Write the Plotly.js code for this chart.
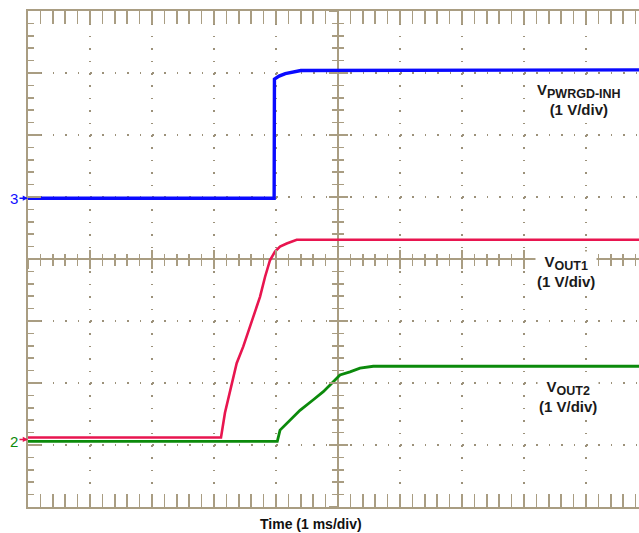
<!DOCTYPE html>
<html>
<head>
<meta charset="utf-8">
<script src="https://cdn.plot.ly/plotly-3.0.1.min.js"></script>
<style>html,body{margin:0;padding:0;background:#fff;}#chart{width:639px;height:533px;}</style>
</head>
<body>
<div id="chart"></div>
<script>
// Time axis in ms (1 ms/div, 0 = screen centre); vertical in divisions (1 V/div)
const timeBlue = [-5, -1.03, -1.025, -0.95, -0.85, -0.6, 4.86];
const vBlue    = [0.98, 0.98, 2.90, 2.95, 2.99, 3.04, 3.05];

const timeRed = [-5, -1.887, -1.823, -1.694, -1.634, -1.527, -1.366, -1.258, -1.177, -1.097, -1.016, -0.935, -0.827, -0.666, 4.86];
const vRed    = [-2.88, -2.88, -2.48, -1.95, -1.68, -1.41, -0.93, -0.61, -0.29, -0.02, 0.12, 0.20, 0.25, 0.31, 0.31];

const timeGreen = [-5, -0.979, -0.935, -0.827, -0.613, -0.398, -0.237, -0.076, 0.032, 0.194, 0.355, 0.569, 4.86];
const vGreen    = [-2.94, -2.94, -2.76, -2.65, -2.44, -2.27, -2.14, -1.98, -1.87, -1.82, -1.76, -1.73, -1.73];

const subStyle = "font-size:12.5px";
const labelPwrgd = "V<sub><span style='" + subStyle + "'>PWRGD-INH</span></sub><br>(1 V/div)";
const labelOut1 = "V<sub><span style='" + subStyle + "'>OUT1</span></sub><br>(1 V/div)";
const labelOut2 = "V<sub><span style='" + subStyle + "'>OUT2</span></sub><br>(1 V/div)";
const labelTime = 'Time (1 ms/div)';
const groundBlue = 0.98, groundRed = -2.88, groundGreen = -2.94;

const tan = '#a99d82';
const xRange = [-5, 4.855];
const yRange = [-4, 4];
const fontFam = 'Liberation Sans, Arial, sans-serif';

// convert a vertical division value to paper fraction (for marker labels left of the plot)
const yPaper = v => (v - yRange[0]) / (yRange[1] - yRange[0]);

const traces = [
  {x: timeGreen, y: vGreen, mode: 'lines', line: {color: '#0b8a0b', width: 2.8}, hoverinfo: 'skip'},
  {x: timeRed, y: vRed, mode: 'lines', line: {color: '#e8154f', width: 2.6}, hoverinfo: 'skip'},
  {x: timeBlue, y: vBlue, mode: 'lines', line: {color: '#0a0aff', width: 3.4}, hoverinfo: 'skip'},
  {x: [], y: [], xaxis: 'x2', yaxis: 'y', hoverinfo: 'skip'},
  {x: [], y: [], xaxis: 'x3', yaxis: 'y', hoverinfo: 'skip'},
  {x: [], y: [], xaxis: 'x', yaxis: 'y2', hoverinfo: 'skip'},
  {x: [], y: [], xaxis: 'x', yaxis: 'y3', hoverinfo: 'skip'}
];

function centreAxis(extra, tickSide) {
  return Object.assign({
    dtick: 1, tick0: 0, showgrid: false, zeroline: false, showline: false,
    showticklabels: false, ticks: tickSide, ticklen: 9, tickwidth: 1.5, tickcolor: tan, fixedrange: true,
    minor: {dtick: 0.2, ticks: tickSide, ticklen: 5.5, tickwidth: 1.5, tickcolor: tan, showgrid: false}
  }, extra);
}

const labelFont = {family: fontFam, size: 15, color: '#1a1a1a', weight: 'bold'};
const markFont = c => ({family: fontFam, size: 15, color: c});

const layout = {
  width: 639, height: 533,
  margin: {l: 28, r: 0, t: 11, b: 26, pad: 0},
  paper_bgcolor: '#ffffff', plot_bgcolor: '#ffffff',
  showlegend: false,
  xaxis: {
    range: xRange, dtick: 1, tick0: 0, showgrid: true, gridcolor: '#9c917a', gridwidth: 1.5,
    griddash: '1.5px,10.9px', zeroline: true, zerolinecolor: tan, zerolinewidth: 2,
    showline: true, linecolor: tan, linewidth: 2, mirror: 'allticks',
    ticks: 'inside', ticklen: 13, tickwidth: 1.5, tickcolor: tan, showticklabels: false,
    minor: {dtick: 0.2, ticks: 'inside', ticklen: 6, tickwidth: 1.5, tickcolor: tan, showgrid: false},
    fixedrange: true
  },
  yaxis: {
    range: yRange, dtick: 1, tick0: 0, showgrid: true, gridcolor: '#9c917a', gridwidth: 1.5,
    griddash: '1.5px,10.9px', zeroline: true, zerolinecolor: tan, zerolinewidth: 2,
    showline: true, linecolor: tan, linewidth: 2, mirror: false,
    ticks: 'inside', ticklen: 13, tickwidth: 1.5, tickcolor: tan, showticklabels: false,
    minor: {dtick: 0.2, ticks: 'inside', ticklen: 6, tickwidth: 1.5, tickcolor: tan, showgrid: false},
    fixedrange: true
  },
  xaxis2: centreAxis({range: xRange, overlaying: 'x', anchor: 'free', position: 0.5, side: 'bottom'}, 'inside'),
  xaxis3: centreAxis({range: xRange, overlaying: 'x', anchor: 'free', position: 0.5, side: 'bottom'}, 'outside'),
  yaxis2: centreAxis({range: yRange, overlaying: 'y', anchor: 'free', position: 5 / (xRange[1] - xRange[0]), side: 'left'}, 'inside'),
  yaxis3: centreAxis({range: yRange, overlaying: 'y', anchor: 'free', position: 5 / (xRange[1] - xRange[0]), side: 'left'}, 'outside'),
  annotations: [
    {x: 3.887, y: 2.57, xref: 'x', yref: 'y', text: labelPwrgd, showarrow: false, align: 'center',
     xanchor: 'center', yanchor: 'middle', bgcolor: '#ffffff', borderpad: 1, font: labelFont},
    {x: 3.677, y: -0.20, xref: 'x', yref: 'y', text: labelOut1, showarrow: false, align: 'center',
     xanchor: 'center', yanchor: 'middle', bgcolor: '#ffffff', borderpad: 1, font: labelFont},
    {x: 3.71, y: -2.21, xref: 'x', yref: 'y', text: labelOut2, showarrow: false, align: 'center',
     xanchor: 'center', yanchor: 'middle', bgcolor: '#ffffff', borderpad: 1, font: labelFont},
    {x: 0.4632, y: -0.035, xref: 'paper', yref: 'paper', text: labelTime, showarrow: false,
     xanchor: 'center', yanchor: 'middle',
     font: {family: fontFam, size: 14, color: '#111111', weight: 'bold'}},
    // ground reference markers
    {x: -0.023, y: yPaper(groundBlue), xref: 'paper', yref: 'paper', text: '3', showarrow: false,
     xanchor: 'center', yanchor: 'middle', font: markFont('#1010ff')},
    {x: -5, y: groundBlue, xref: 'x', yref: 'y', ax: -10, ay: 0, text: '', showarrow: true,
     arrowhead: 2, arrowsize: 0.7, arrowwidth: 1.5, arrowcolor: '#1010ff'},
    {x: -0.023, y: yPaper(groundGreen), xref: 'paper', yref: 'paper', text: '2', showarrow: false,
     xanchor: 'center', yanchor: 'middle', font: markFont('#0b8a0b')},
    {x: -5, y: groundGreen + 0.03, xref: 'x', yref: 'y', ax: -10, ay: 0, text: '', showarrow: true,
     arrowhead: 2, arrowsize: 0.7, arrowwidth: 1.5, arrowcolor: '#e8154f'}
  ]
};

Plotly.newPlot('chart', traces, layout, {displayModeBar: false, staticPlot: true});
</script>
</body>
</html>
